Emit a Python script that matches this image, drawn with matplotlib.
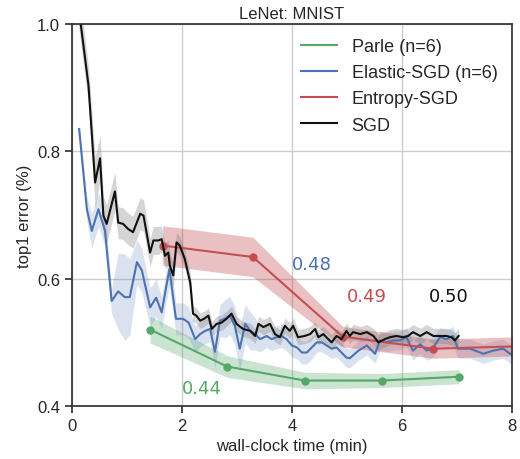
import numpy as np
import matplotlib
matplotlib.use("Agg")
import matplotlib.pyplot as plt
from matplotlib.lines import Line2D

# ---------------- data ----------------
parle_x = [1.42, 2.82, 4.23, 5.63, 7.04]
parle_y = [0.520, 0.462, 0.440, 0.440, 0.446]
parle_sd = [0.021, 0.017, 0.013, 0.011, 0.011]

entropy_x = [1.65, 3.29, 4.92, 6.57, 8.2]
entropy_y = [0.652, 0.634, 0.509, 0.490, 0.494]
entropy_sd = [0.031, 0.031, 0.016, 0.015, 0.015]

sgd_x = [0.10, 0.30, 0.42, 0.51, 0.57, 0.63, 0.78, 0.84, 0.93, 1.02, 1.11, 1.24, 1.30,
         1.42, 1.48, 1.57, 1.63, 1.69, 1.75, 1.78, 1.84, 1.90, 1.96, 2.05, 2.15, 2.20,
         2.26, 2.33, 2.40, 2.48, 2.54, 2.63, 2.72, 2.81, 2.90, 2.99, 3.11, 3.24, 3.33,
         3.39, 3.48, 3.60, 3.69, 3.78, 3.87, 3.96, 4.02, 4.11, 4.23, 4.33, 4.42, 4.48,
         4.57, 4.66, 4.72, 4.81, 4.90, 4.99, 5.05, 5.11, 5.24, 5.36, 5.48, 5.57, 5.69,
         5.78, 5.90, 6.02, 6.11, 6.20, 6.33, 6.45, 6.57, 6.69, 6.81, 6.90, 6.96, 7.03]
sgd_y = [1.040, 0.903, 0.751, 0.789, 0.699, 0.686, 0.737, 0.688, 0.686, 0.678, 0.673, 0.702, 0.699,
         0.641, 0.660, 0.660, 0.662, 0.636, 0.641, 0.620, 0.605, 0.657, 0.652, 0.631, 0.594, 0.545,
         0.542, 0.534, 0.537, 0.542, 0.521, 0.529, 0.531, 0.537, 0.545, 0.529, 0.521, 0.518, 0.510,
         0.529, 0.524, 0.529, 0.513, 0.508, 0.526, 0.518, 0.526, 0.508, 0.510, 0.513, 0.521, 0.508,
         0.513, 0.505, 0.500, 0.510, 0.505, 0.518, 0.510, 0.516, 0.513, 0.516, 0.510, 0.500, 0.505,
         0.508, 0.510, 0.508, 0.510, 0.516, 0.510, 0.516, 0.510, 0.510, 0.510, 0.508, 0.503, 0.510]
sgd_sd = [0.030, 0.030, 0.040, 0.035, 0.030, 0.030, 0.030, 0.025, 0.025, 0.025, 0.025, 0.025, 0.025,
          0.022, 0.022, 0.022, 0.020, 0.020, 0.020, 0.020, 0.020, 0.015, 0.015, 0.015, 0.015, 0.012,
          0.012, 0.012, 0.012, 0.012, 0.012, 0.012, 0.012, 0.012, 0.012, 0.012, 0.012, 0.012, 0.012,
          0.012, 0.012, 0.012, 0.012, 0.012, 0.012, 0.012, 0.012, 0.012, 0.012, 0.012, 0.012, 0.012,
          0.012, 0.012, 0.012, 0.012, 0.012, 0.012, 0.012, 0.012, 0.012, 0.012, 0.012, 0.012, 0.012,
          0.012, 0.012, 0.012, 0.012, 0.012, 0.012, 0.012, 0.012, 0.012, 0.012, 0.012, 0.012, 0.012]

elastic_x = [0.13, 0.27, 0.36, 0.48, 0.60, 0.72, 0.84, 0.96, 1.05, 1.18, 1.27, 1.42, 1.53,
             1.63, 1.77, 1.89, 2.02, 2.12, 2.24, 2.33, 2.42, 2.51, 2.60, 2.69, 2.78, 2.87,
             2.96, 3.05, 3.15, 3.24, 3.33, 3.42, 3.54, 3.63, 3.72, 3.81, 3.90, 4.00, 4.09,
             4.18, 4.27, 4.36, 4.45, 4.54, 4.63, 4.72, 4.81, 4.90, 4.99, 5.05, 5.21, 5.36,
             5.51, 5.60, 5.72, 5.84, 5.96, 6.08, 6.20, 6.33, 6.45, 6.57, 6.69, 6.81, 6.93,
             7.02, 7.24, 7.48, 7.66, 7.84, 8.00]
elastic_y = [0.835, 0.709, 0.675, 0.709, 0.675, 0.565, 0.580, 0.571, 0.571, 0.626, 0.613, 0.555, 0.570,
             0.547, 0.615, 0.537, 0.537, 0.531, 0.505, 0.513, 0.518, 0.521, 0.485, 0.534, 0.537, 0.542,
             0.526, 0.490, 0.529, 0.518, 0.513, 0.505, 0.510, 0.505, 0.508, 0.510, 0.505, 0.495, 0.492,
             0.484, 0.484, 0.492, 0.500, 0.500, 0.495, 0.490, 0.492, 0.484, 0.476, 0.475, 0.487, 0.495,
             0.482, 0.503, 0.500, 0.503, 0.503, 0.508, 0.487, 0.497, 0.487, 0.492, 0.508, 0.505, 0.510,
             0.490, 0.490, 0.482, 0.487, 0.490, 0.480]
elastic_sd = [0.010, 0.020, 0.027, 0.027, 0.025, 0.020, 0.060, 0.068, 0.060, 0.035, 0.035, 0.030, 0.030,
              0.025, 0.025, 0.025, 0.025, 0.025, 0.020, 0.020, 0.020, 0.020, 0.025, 0.025, 0.030, 0.030,
              0.030, 0.035, 0.030, 0.030, 0.025, 0.020, 0.018, 0.018, 0.018, 0.018, 0.018, 0.018, 0.018,
              0.018, 0.018, 0.018, 0.015, 0.015, 0.015, 0.015, 0.015, 0.015, 0.015, 0.015, 0.015, 0.015,
              0.015, 0.015, 0.015, 0.015, 0.015, 0.015, 0.015, 0.015, 0.015, 0.015, 0.015, 0.015, 0.015,
              0.015, 0.015, 0.015, 0.015, 0.015, 0.015]

annotations = [("0.48", 4.36, 0.623, "#4C72B0"),
               ("0.49", 5.36, 0.573, "#C44E52"),
               ("0.50", 6.85, 0.573, "#111111"),
               ("0.44", 2.37, 0.428, "#55A868")]

xticks = [0, 2, 4, 6, 8]
yticks = [0.4, 0.6, 0.8, 1.0]

# ---------------- plot ----------------
plt.rcParams['font.family'] = ['Liberation Sans', 'DejaVu Sans']
fig = plt.figure(figsize=(5.2, 4.6), dpi=100)
ax = fig.add_axes([0.1385, 0.1152, 0.8461, 0.8305])

green, blue, red, black = "#55A868", "#4C72B0", "#C44E52", "#111111"

def band(x, y, sd, color, alpha):
    x = np.asarray(x); y = np.asarray(y); sd = np.asarray(sd)
    ax.fill_between(x, y - sd, y + sd, color=color, alpha=alpha, lw=0)

band(parle_x, parle_y, parle_sd, green, 0.3)
band(elastic_x, elastic_y, elastic_sd, blue, 0.2)
band(entropy_x, entropy_y, entropy_sd, red, 0.35)
band(sgd_x, sgd_y, sgd_sd, "#777777", 0.3)

ax.plot(parle_x, parle_y, color=green, lw=1.5, marker='o', ms=5)
ax.plot(elastic_x, elastic_y, color=blue, lw=1.5)
ax.plot(entropy_x, entropy_y, color=red, lw=1.5, marker='o', ms=5)
ax.plot(sgd_x, sgd_y, color=black, lw=1.5)

for txt, x, y, c in annotations:
    ax.text(x, y, txt, color=c, fontsize=13, ha='center', va='center', family='DejaVu Sans')

ax.set_xlim(0, 8)
ax.set_ylim(0.4, 1.0)
ax.set_xticks(xticks)
ax.set_yticks(yticks)
ax.set_yticklabels([f"{v:.1f}" for v in yticks])
ax.grid(True, color="#cccccc", lw=1)
ax.set_axisbelow(True)
for s in ax.spines.values():
    s.set_color("#333333")
    s.set_linewidth(1.25)
ax.tick_params(direction='out', length=5, width=1.25, color="#333333", labelsize=12,
               labelcolor="#262626", top=False, right=False)
ax.set_xlabel("wall-clock time (min)", fontsize=12, color="#262626")
ax.set_ylabel("top1 error (%)", fontsize=12, color="#262626")
ax.set_title("LeNet: MNIST", fontsize=12, color="#262626", pad=4)

handles = [Line2D([], [], color=green, lw=1.5), Line2D([], [], color=blue, lw=1.5),
           Line2D([], [], color=red, lw=1.5), Line2D([], [], color=black, lw=1.5)]
labels = ["Parle (n=6)", "Elastic-SGD (n=6)", "Entropy-SGD", "SGD"]
leg = ax.legend(handles, labels, loc='upper right', frameon=False, fontsize=13,
                handlelength=2.0, handletextpad=0.8, borderaxespad=0.4, labelspacing=0.5)
for t in leg.get_texts():
    t.set_color("#262626")

fig.savefig("out.png", dpi=100)
